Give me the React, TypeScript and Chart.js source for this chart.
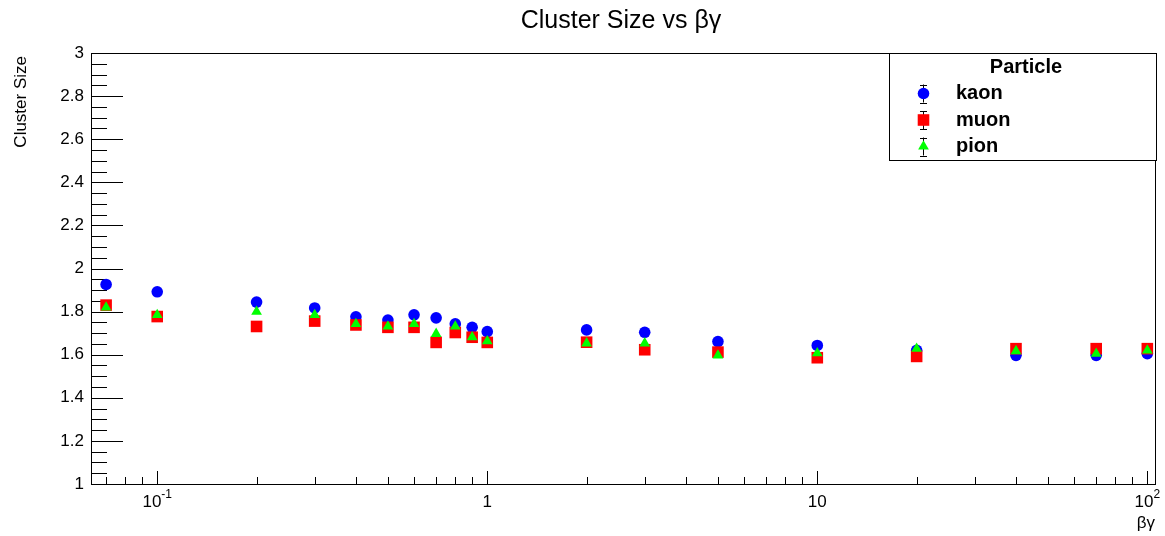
import React, { useEffect, useRef } from "react";
import { Chart, registerables } from "chart.js";

Chart.register(...registerables);

const betaGamma = [0.07, 0.1, 0.2, 0.3, 0.4, 0.5, 0.6, 0.7, 0.8, 0.9, 1, 2, 3, 5, 10, 20, 40, 70, 100];
const kaonSize = [1.926, 1.892, 1.844, 1.817, 1.776, 1.761, 1.785, 1.771, 1.743, 1.727, 1.707, 1.715, 1.704, 1.661, 1.643, 1.62, 1.597, 1.597, 1.605];
const muonSize = [1.83, 1.777, 1.731, 1.756, 1.738, 1.727, 1.727, 1.657, 1.703, 1.681, 1.657, 1.658, 1.623, 1.612, 1.586, 1.592, 1.628, 1.628, 1.628];
const pionSize = [1.819, 1.785, 1.8, 1.785, 1.743, 1.731, 1.743, 1.697, 1.731, 1.681, 1.663, 1.653, 1.653, 1.597, 1.607, 1.628, 1.617, 1.605, 1.62];

const seriesNames = ["kaon", "muon", "pion"];
const seriesColors = ["#0000ff", "#ff0000", "#00ff00"];

const yMajorTicks = [1, 1.2, 1.4, 1.6, 1.8, 2, 2.2, 2.4, 2.6, 2.8, 3];
const yTickLabels = ["1", "1.2", "1.4", "1.6", "1.8", "2", "2.2", "2.4", "2.6", "2.8", "3"];
const xMajorTicks = [0.1, 1, 10, 100];
const xTickBases = ["10", "1", "10", "10"];
const xTickExps = ["-1", "", "", "2"];

const chartTitle = "Cluster Size vs βγ";
const xTitle = "βγ";
const yTitle = "Cluster Size";
const legendTitle = "Particle";

const FONT = "'Liberation Sans', Arial, Helvetica, sans-serif";

function toPoints(ys: number[]) {
  return betaGamma.map((x, i) => ({ x, y: ys[i] }));
}

function drawMarker(ctx: CanvasRenderingContext2D, style: string, x: number, y: number, r: number) {
  ctx.beginPath();
  if (style === "circle") {
    ctx.arc(x, y, r, 0, Math.PI * 2);
  } else if (style === "rect") {
    const s = Math.SQRT1_2 * r;
    ctx.rect(x - s, y - s, 2 * s, 2 * s);
  } else {
    let rad = 0;
    ctx.moveTo(x + Math.sin(rad) * r, y - Math.cos(rad) * r);
    rad += (2 * Math.PI) / 3;
    ctx.lineTo(x + Math.sin(rad) * r, y - Math.cos(rad) * r);
    rad += (2 * Math.PI) / 3;
    ctx.lineTo(x + Math.sin(rad) * r, y - Math.cos(rad) * r);
    ctx.closePath();
  }
  ctx.fill();
}

const markerStyles = ["circle", "rect", "triangle"];
const markerRadii = [5.8, 8.2, 6.2];

const rootPlugin = {
  id: "rootStyle",
  beforeDatasetsDraw(chart: any) {
    const ctx = chart.ctx;
    const { left, right, top, bottom } = chart.chartArea;
    const xs = chart.scales.x;
    const ys = chart.scales.y;
    ctx.save();
    ctx.strokeStyle = "#000";
    ctx.lineWidth = 1;
    ctx.strokeRect(Math.round(left) + 0.5, Math.round(top) + 0.5, Math.round(right - left), Math.round(bottom - top));
    ctx.beginPath();
    for (let k = 0; k <= 40; k++) {
      const v = 1 + k * 0.05;
      const y = Math.round(ys.getPixelForValue(v)) + 0.5;
      const len = k % 4 === 0 ? 32 : 16;
      ctx.moveTo(left, y);
      ctx.lineTo(left + len, y);
    }
    const xmin = xs.min, xmax = xs.max;
    for (let d = -2; d <= 2; d++) {
      for (let m = 1; m <= 9; m++) {
        const v = m * Math.pow(10, d);
        if (v < xmin || v > xmax) continue;
        const x = Math.round(xs.getPixelForValue(v)) + 0.5;
        const len = m === 1 ? 13 : 7;
        ctx.moveTo(x, bottom);
        ctx.lineTo(x, bottom - len);
      }
    }
    ctx.stroke();

    ctx.fillStyle = "#000";
    ctx.font = `17px ${FONT}`;
    ctx.textAlign = "right";
    ctx.textBaseline = "middle";
    yMajorTicks.forEach((v, i) => {
      ctx.fillText(yTickLabels[i], left - 7, ys.getPixelForValue(v));
    });

    ctx.textBaseline = "alphabetic";
    ctx.textAlign = "left";
    xMajorTicks.forEach((v, i) => {
      const x = xs.getPixelForValue(v);
      ctx.font = `17px ${FONT}`;
      const wb = ctx.measureText(xTickBases[i]).width;
      ctx.font = `12px ${FONT}`;
      const we = xTickExps[i] ? ctx.measureText(xTickExps[i]).width : 0;
      const start = x - (wb + we) / 2;
      ctx.font = `17px ${FONT}`;
      ctx.fillText(xTickBases[i], start, bottom + 23);
      if (xTickExps[i]) {
        ctx.font = `12px ${FONT}`;
        ctx.fillText(xTickExps[i], start + wb, bottom + 14);
      }
    });

    ctx.font = `17px ${FONT}`;
    ctx.textAlign = "right";
    ctx.fillText(xTitle, right, bottom + 44);
    ctx.save();
    ctx.translate(26, top + 3);
    ctx.rotate(-Math.PI / 2);
    ctx.textAlign = "right";
    ctx.fillText(yTitle, 0, 0);
    ctx.restore();

    ctx.font = `25px ${FONT}`;
    ctx.textAlign = "center";
    ctx.fillText(chartTitle, 621, 28);
    ctx.restore();
  },
  afterDraw(chart: any) {
    const ctx = chart.ctx;
    ctx.save();
    const bx = 889, by = 53, bw = 267, bh = 107;
    ctx.fillStyle = "#fff";
    ctx.fillRect(bx, by, bw, bh);
    ctx.strokeStyle = "#000";
    ctx.lineWidth = 1;
    ctx.strokeRect(bx + 0.5, by + 0.5, bw, bh);
    ctx.fillStyle = "#000";
    ctx.font = `bold 20px ${FONT}`;
    ctx.textAlign = "center";
    ctx.textBaseline = "middle";
    ctx.fillText(legendTitle, 1026, 67);
    const rowY = [93.5, 120, 146.5];
    seriesNames.forEach((name, i) => {
      const mx = 923, my = rowY[i];
      ctx.strokeStyle = "#000";
      ctx.lineWidth = 1;
      ctx.beginPath();
      ctx.moveTo(mx + 0.5, my - 9);
      ctx.lineTo(mx + 0.5, my + 9);
      ctx.moveTo(mx - 3, Math.round(my - 9) + 0.5);
      ctx.lineTo(mx + 4, Math.round(my - 9) + 0.5);
      ctx.moveTo(mx - 3, Math.round(my + 9) + 0.5);
      ctx.lineTo(mx + 4, Math.round(my + 9) + 0.5);
      ctx.stroke();
      ctx.fillStyle = seriesColors[i];
      drawMarker(ctx, markerStyles[i], mx + 0.5, my, markerRadii[i]);
      ctx.fillStyle = "#000";
      ctx.font = `bold 20px ${FONT}`;
      ctx.textAlign = "left";
      ctx.fillText(name, 956, my);
    });
    ctx.restore();
  },
};

export default function App() {
  const ref = useRef<HTMLCanvasElement | null>(null);
  useEffect(() => {
    document.body.style.margin = "0";
    if (!ref.current) return;
    const seriesData = [kaonSize, muonSize, pionSize];
    const chart = new Chart(ref.current, {
      type: "scatter",
      data: {
        datasets: seriesNames.map((name, i) => ({
          label: name,
          data: toPoints(seriesData[i]),
          pointStyle: markerStyles[i] as any,
          pointRadius: markerRadii[i],
          backgroundColor: seriesColors[i],
          borderColor: seriesColors[i],
          borderWidth: 0,
          order: 3 - i,
        })),
      },
      options: {
        responsive: false,
        animation: false,
        events: [],
        layout: { padding: { left: 91, right: 10, top: 53, bottom: 52 } },
        plugins: {
          legend: { display: false },
          title: { display: false },
          tooltip: { enabled: false },
        },
        scales: {
          x: { type: "logarithmic", min: 0.063, max: 105.5, display: false },
          y: { type: "linear", min: 1, max: 3, display: false },
        },
      },
      plugins: [rootPlugin],
    });
    return () => chart.destroy();
  }, []);
  return (
    <div style={{ position: "absolute", left: 0, top: 0, width: 1165, height: 536, background: "#fff" }}>
      <canvas ref={ref} width={1165} height={536} style={{ display: "block" }} />
    </div>
  );
}
